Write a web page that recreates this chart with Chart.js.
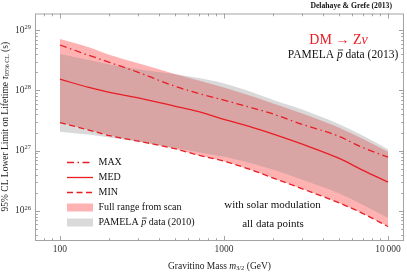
<!DOCTYPE html>
<html>
<head>
<meta charset="utf-8">
<script src="https://cdn.jsdelivr.net/npm/chart.js@4.4.0/dist/chart.umd.min.js"></script>
<style>
  html, body { margin: 0; padding: 0; background: #fff; }
  #wrap { width: 407px; height: 272px; }
</style>
</head>
<body>
<div id="wrap"><canvas id="limitChart" width="407" height="272"></canvas></div>
<script>
// gravitino mass grid (GeV)
const masses = [100, 150, 200, 300, 500, 700, 1000, 1500, 2000, 3000, 5000, 7000, 10000];

// 95% CL lower limits on the lifetime (s)
const maxLimit = [5.69e28, 3.83e28, 2.93e28, 2.0e28, 1.18e28, 8.9e27, 6.9e27, 5.1e27, 4.05e27, 2.73e27, 1.74e27, 1.13e27, 7.8e26];
const medLimit = [1.54e28, 1.12e28, 9.3e27, 7.5e27, 5.5e27, 4.45e27, 3.3e27, 2.42e27, 1.88e27, 1.28e27, 7.5e26, 4.75e26, 3.0e26];
const minLimit = [2.93e27, 2.2e27, 1.78e27, 1.44e27, 1.08e27, 8.4e26, 6.7e26, 4.7e26, 3.5e26, 2.33e26, 1.37e26, 9.1e25, 5.5e25];
// full range from scan: upper edge (lower edge is the MIN curve)
const scanUpper = [7.16e28, 5.21e28, 3.91e28, 2.82e28, 1.88e28, 1.47e28, 1.12e28, 7.94e27, 6.07e27, 4.14e27, 2.42e27, 1.58e27, 9.6e26];
// PAMELA pbar data (2010) band
const pamelaUpper = [4.03e28, 3.22e28, 2.71e28, 2.26e28, 1.88e28, 1.61e28, 1.31e28, 9.27e27, 6.95e27, 4.82e27, 2.77e27, 1.78e27, 1.06e27];
const pamelaLower = [2.07e27, 1.85e27, 1.65e27, 1.41e27, 1.12e27, 9.44e26, 7.94e26, 6.07e26, 4.82e26, 3.29e26, 1.96e26, 1.26e26, 7.64e25];

const xTicks = [100, 1000, 10000];
const xTickLabels = ["100", "1000", "10\u2009000"];
const yTickExponents = [26, 27, 28, 29];
const legendLabels = ["MAX", "MED", "MIN", "Full range from scan", "PAMELA"];

const SERIF = "'Liberation Serif', 'DejaVu Serif', serif";
const RED = "rgb(232,30,36)";
const PINK = "rgba(255,0,0,0.3)";
const GRAY = "rgba(128,128,128,0.3)";
const NONE = "rgba(0,0,0,0)";

function pts(vals) {
  return vals.map((v, i) => ({ x: masses[i], y: v }));
}

// draw a list of text runs; each run: {t, f, dy, bar}
function drawRuns(ctx, runs, x, y, align) {
  let total = 0;
  runs.forEach(r => { ctx.font = r.f; r.w = ctx.measureText(r.t).width; total += r.w; });
  let cx = align === "center" ? x - total / 2 : align === "right" ? x - total : x;
  ctx.textAlign = "left";
  ctx.textBaseline = "middle";
  runs.forEach(r => {
    ctx.font = r.f;
    ctx.fillText(r.t, cx, y + (r.dy || 0));
    if (r.bar) {
      ctx.save();
      ctx.strokeStyle = ctx.fillStyle;
      ctx.lineWidth = 0.8;
      ctx.beginPath();
      ctx.moveTo(cx + 1, y + r.bar);
      ctx.lineTo(cx + r.w + 0.5, y + r.bar);
      ctx.stroke();
      ctx.restore();
    }
    cx += r.w;
  });
}

const decorations = {
  id: "decorations",
  afterDraw(chart) {
    const { ctx, chartArea: a, scales } = chart;
    const xs = scales.x, ys = scales.y;
    ctx.save();

    // frame
    ctx.strokeStyle = "#a3a3a3";
    ctx.lineWidth = 1;
    ctx.strokeRect(a.left + 0.5, a.top + 0.5, a.right - a.left - 1, a.bottom - a.top - 1);

    // inward ticks, all four sides
    ctx.beginPath();
    for (let d = 1; d <= 4; d++) {
      for (let k = 1; k <= 9; k++) {
        const v = k * Math.pow(10, d);
        if (v < xs.min || v > xs.max) continue;
        const px = Math.round(xs.getPixelForValue(v)) + 0.5;
        const len = k === 1 ? 5 : 2.8;
        ctx.moveTo(px, a.bottom); ctx.lineTo(px, a.bottom - len);
        ctx.moveTo(px, a.top); ctx.lineTo(px, a.top + len);
      }
    }
    for (let d = 25; d <= 29; d++) {
      for (let k = 1; k <= 9; k++) {
        const v = k * Math.pow(10, d);
        if (v < ys.min || v > ys.max) continue;
        const py = Math.round(ys.getPixelForValue(v)) + 0.5;
        const len = k === 1 ? 5 : 2.8;
        ctx.moveTo(a.left, py); ctx.lineTo(a.left + len, py);
        ctx.moveTo(a.right, py); ctx.lineTo(a.right - len, py);
      }
    }
    ctx.stroke();

    // tick labels
    ctx.fillStyle = "#333";
    ctx.textAlign = "center";
    ctx.textBaseline = "middle";
    ctx.font = "9.5px " + SERIF;
    xTicks.forEach((v, i) => ctx.fillText(xTickLabels[i], xs.getPixelForValue(v), a.bottom + 8.5));
    yTickExponents.forEach(e => {
      const py = ys.getPixelForValue(Math.pow(10, e));
      ctx.font = "6.5px " + SERIF;
      const ws = ctx.measureText(String(e)).width;
      ctx.textAlign = "left";
      ctx.fillText(String(e), a.left - 4 - ws, py - 3);
      ctx.font = "9.5px " + SERIF;
      ctx.textAlign = "right";
      ctx.fillText("10", a.left - 4 - ws, py);
    });

    // axis titles
    ctx.fillStyle = "#222";
    drawRuns(ctx, [
      { t: "Gravitino Mass ", f: "9.5px " + SERIF },
      { t: "m", f: "italic 9.5px " + SERIF },
      { t: "3/2", f: "6.5px " + SERIF, dy: 2 },
      { t: " (GeV)", f: "9.5px " + SERIF }
    ], (a.left + a.right) / 2, 266, "center");

    ctx.save();
    ctx.translate(5, 126.7);
    ctx.rotate(-Math.PI / 2);
    drawRuns(ctx, [
      { t: "95% CL Lower Limit on Lifetime ", f: "9.5px " + SERIF },
      { t: "\u03c4", f: "italic 9.5px " + SERIF },
      { t: "95% CL", f: "6.5px " + SERIF, dy: 2 },
      { t: " (s)", f: "9.5px " + SERIF }
    ], 0, 0, "center");
    ctx.restore();

    // legend
    const ds = chart.data.datasets;
    const lx0 = 67, lx1 = 93, tx = 98.5;
    legendLabels.forEach((lab, i) => {
      const ly = 162.5 + 15 * i;
      if (i < 3) {
        ctx.save();
        ctx.strokeStyle = ds[i].borderColor;
        ctx.lineWidth = ds[i].borderWidth;
        ctx.setLineDash(ds[i].borderDash || []);
        ctx.beginPath();
        ctx.moveTo(lx0, ly); ctx.lineTo(lx1, ly);
        ctx.stroke();
        ctx.restore();
      } else {
        ctx.fillStyle = i === 3 ? PINK : GRAY;
        ctx.fillRect(lx0, ly - 4, lx1 - lx0, 8);
      }
      ctx.fillStyle = "#111";
      if (i === 4) {
        drawRuns(ctx, [
          { t: lab + " ", f: "10px " + SERIF },
          { t: "p", f: "italic 10px " + SERIF, bar: -4.5 },
          { t: " data (2010)", f: "10px " + SERIF }
        ], tx, ly, "left");
      } else {
        drawRuns(ctx, [{ t: lab, f: "10px " + SERIF }], tx, ly, "left");
      }
    });

    // annotations
    ctx.fillStyle = "#111";
    drawRuns(ctx, [{ t: "Delahaye & Grefe (2013)", f: "bold 7.7px " + SERIF }], 392, 6.5, "right");
    ctx.fillStyle = RED;
    drawRuns(ctx, [
      { t: "DM \u2192 Z", f: "14px " + SERIF },
      { t: "\u03bd", f: "italic 14px " + SERIF }
    ], 338.5, 40, "center");
    ctx.fillStyle = "#111";
    drawRuns(ctx, [
      { t: "PAMELA ", f: "11.5px " + SERIF },
      { t: "p", f: "italic 11.5px " + SERIF, bar: -5 },
      { t: " data (2013)", f: "11.5px " + SERIF }
    ], 343, 55, "center");
    drawRuns(ctx, [{ t: "with solar modulation", f: "11px " + SERIF }], 272.5, 205.5, "center");
    drawRuns(ctx, [{ t: "all data points", f: "11px " + SERIF }], 273, 224, "center");

    ctx.restore();
  }
};

const lineOpts = { pointRadius: 0, cubicInterpolationMode: "monotone" };

const config = {
  type: "line",
  data: {
    datasets: [
      { label: "MAX", data: pts(maxLimit), borderColor: RED, borderWidth: 1.3, borderDash: [7, 3.5, 1.5, 3.5], fill: false, ...lineOpts },
      { label: "MED", data: pts(medLimit), borderColor: RED, borderWidth: 1.3, fill: false, ...lineOpts },
      { label: "MIN", data: pts(minLimit), borderColor: RED, borderWidth: 1.3, borderDash: [6, 3.5], fill: false, ...lineOpts },
      { label: "PAMELA upper", data: pts(pamelaUpper), borderColor: NONE, borderWidth: 0, backgroundColor: GRAY, fill: "+1", ...lineOpts },
      { label: "PAMELA lower", data: pts(pamelaLower), borderColor: NONE, borderWidth: 0, fill: false, ...lineOpts },
      { label: "Full range", data: pts(scanUpper), borderColor: NONE, borderWidth: 0, backgroundColor: PINK, fill: 2, ...lineOpts }
    ]
  },
  options: {
    responsive: false,
    animation: false,
    devicePixelRatio: 1,
    layout: { padding: { left: 35, right: 3, top: 13.5, bottom: 31 } },
    scales: {
      x: { type: "logarithmic", min: 70.4, max: 12520, display: false },
      y: { type: "logarithmic", min: 3.162e25, max: 1.897e29, display: false }
    },
    plugins: {
      legend: { display: false },
      tooltip: { enabled: false }
    }
  },
  plugins: [decorations]
};

const limitChart = new Chart(document.getElementById("limitChart"), config);
</script>
</body>
</html>
